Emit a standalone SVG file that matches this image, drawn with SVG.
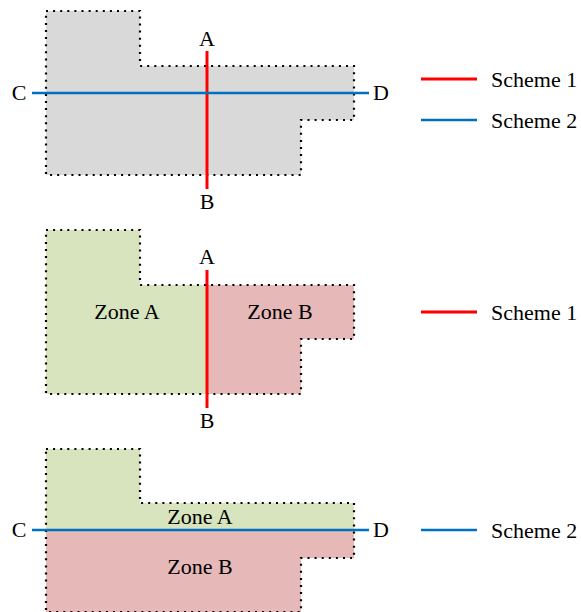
<svg xmlns="http://www.w3.org/2000/svg" width="581" height="612" viewBox="0 0 581 612">
<style>
text{font-family:"Liberation Serif","Times New Roman",serif;font-size:22px;fill:#000}
.mid{text-anchor:middle}
.outline{fill:none;stroke:#000;stroke-width:2.2;stroke-dasharray:2 5.1}
.gray{fill:#d9d9d9}
.green{fill:#d7e4bd}
.pink{fill:#e6b9b8}
.red{stroke:#ff0000;stroke-width:3;fill:none}
.blue{stroke:#0070c0;stroke-width:2.5;fill:none}
</style>
<rect width="581" height="612" fill="#fff"/>
<g id="panel1">
<polygon class="gray" points="46,11 140,11 140,66 354,66 354,120 301,120 301,175 46,175"/>
<polygon class="outline" points="46,11 140,11 140,66 354,66 354,120 301,120 301,175 46,175"/>
</g>
<g id="panel2">
<polygon class="green" points="46,230 140,230 140,285 207,285 207,394 46,394"/>
<polygon class="pink" points="207,285 354,285 354,339 301,339 301,394 207,394"/>
<polygon class="outline" points="46,230 140,230 140,285 354,285 354,339 301,339 301,394 46,394"/>
<text class="mid" x="127" y="319">Zone A</text>
<text class="mid" x="280" y="319">Zone B</text>
</g>
<g id="panel3">
<polygon class="green" points="46,449 140,449 140,503 354,503 354,530 46,530"/>
<polygon class="pink" points="46,530 354,530 354,558 301,558 301,612 46,612"/>
<polygon class="outline" points="46,449 140,449 140,503 354,503 354,558 301,558 301,612 46,612"/>
<text class="mid" x="200" y="524">Zone A</text>
<text class="mid" x="200" y="574">Zone B</text>
</g>
<g id="connectors">
<line class="red" x1="207" y1="51" x2="207" y2="189"/>
<line class="blue" x1="32" y1="93" x2="369" y2="93"/>
<line class="red" x1="207" y1="270" x2="207" y2="408"/>
<line class="blue" x1="32" y1="530" x2="369" y2="530"/>
</g>
<g id="labels">
<text class="mid" x="207" y="46">A</text>
<text class="mid" x="207" y="209">B</text>
<text class="mid" x="19" y="100">C</text>
<text class="mid" x="381" y="100">D</text>
<text class="mid" x="207" y="264">A</text>
<text class="mid" x="207" y="428">B</text>
<text class="mid" x="19" y="537">C</text>
<text class="mid" x="381" y="537">D</text>
</g>
<g id="legend">
<line class="red" x1="421" y1="79" x2="477" y2="79"/>
<text x="491" y="87">Scheme 1</text>
<line class="blue" x1="421" y1="120" x2="477" y2="120"/>
<text x="491" y="128">Scheme 2</text>
<line class="red" x1="421" y1="312" x2="477" y2="312"/>
<text x="491" y="320">Scheme 1</text>
<line class="blue" x1="421" y1="530" x2="477" y2="530"/>
<text x="491" y="538">Scheme 2</text>
</g>
</svg>
